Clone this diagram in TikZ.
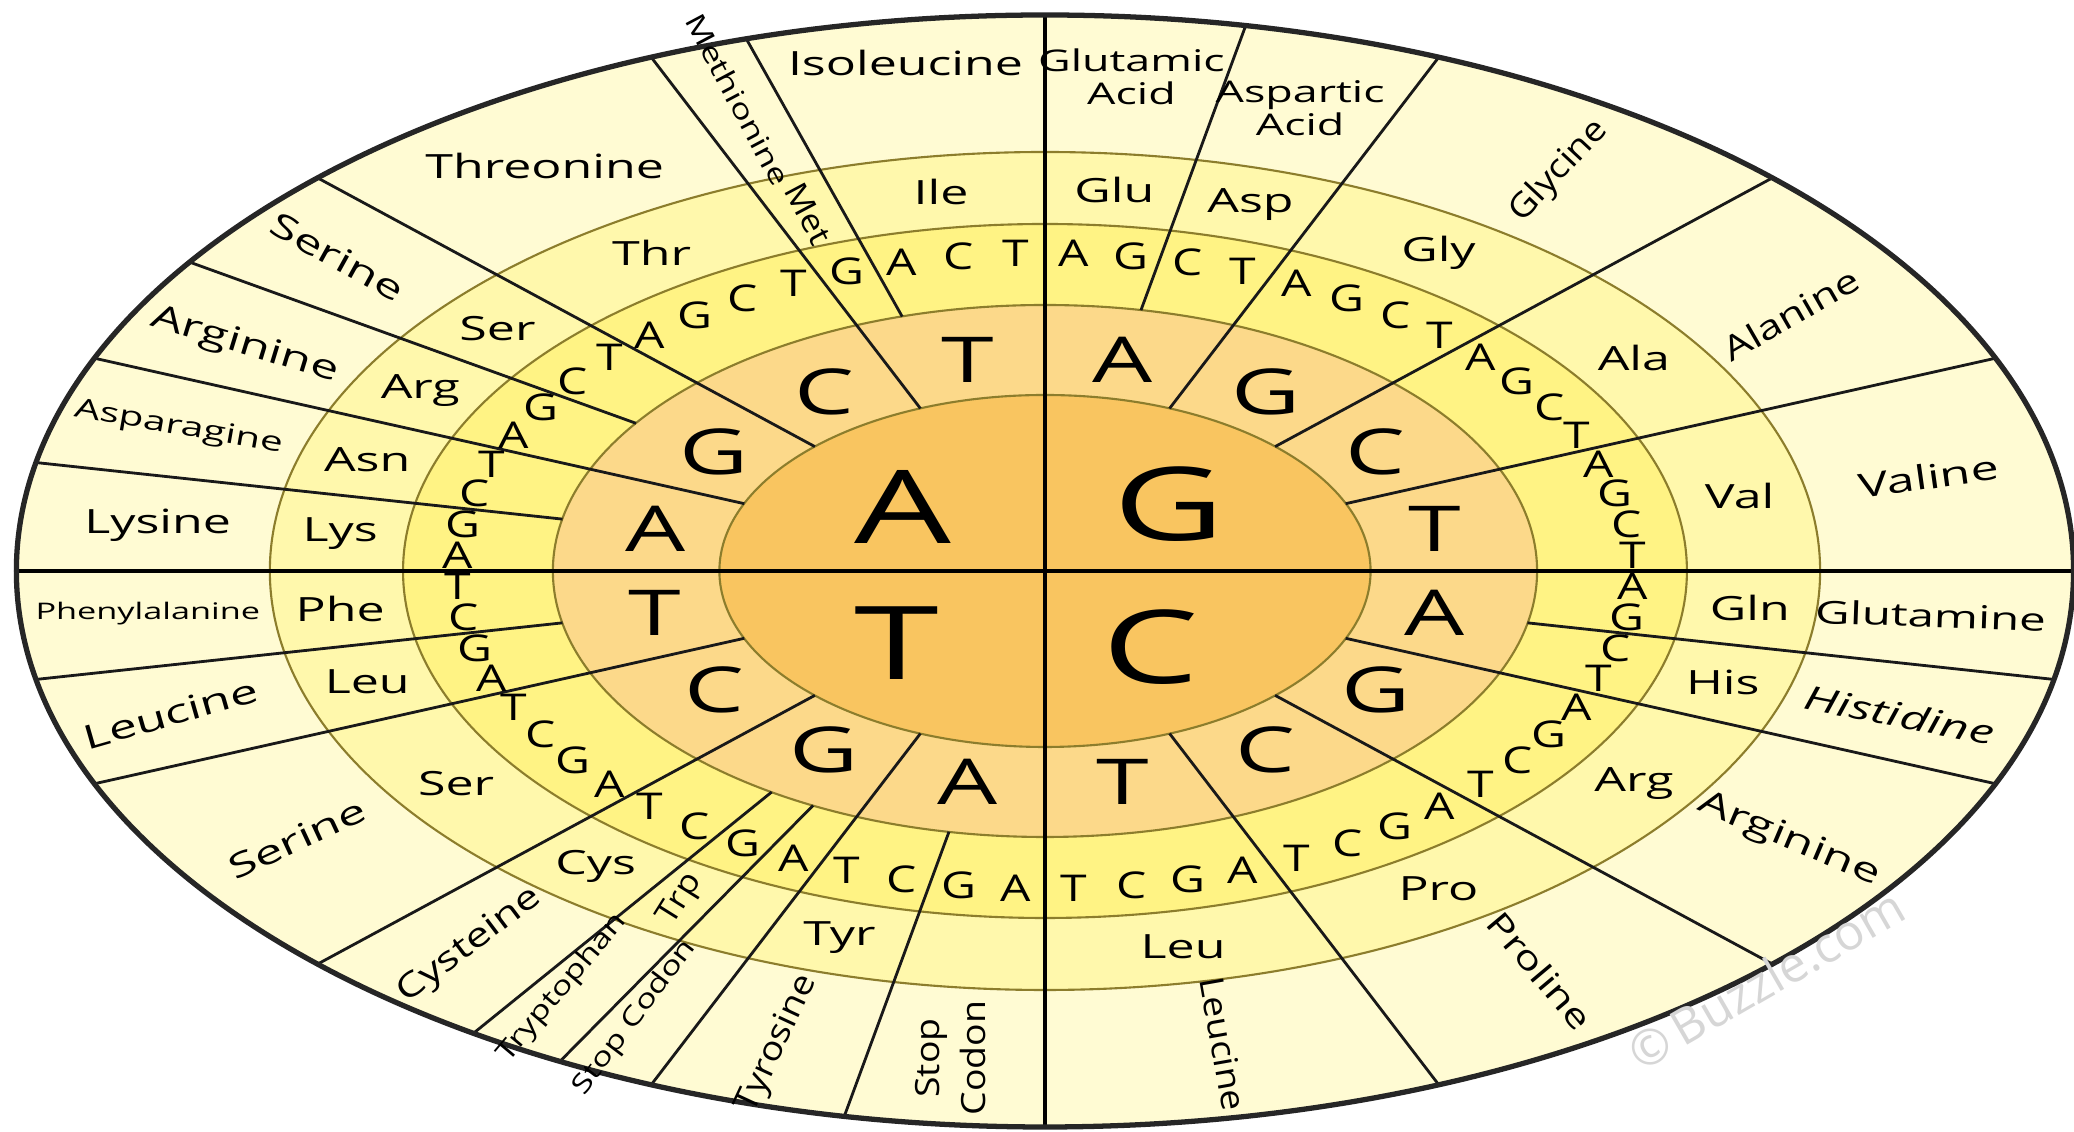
\documentclass[tikz,border=0pt]{standalone}
\usepackage{tikz}
\usepackage{xcolor}
\usepackage{fontspec}
\setmainfont{Open Sans}
\newfontfamily\stretchwide[FakeStretch=1.5]{Open Sans}
\newfontfamily\stretchmid[FakeStretch=1.3]{Open Sans}
\newfontfamily\stretchlow[FakeStretch=1.12]{Open Sans}
\newfontfamily\stretchnone{Open Sans}
\definecolor{ringfive}{HTML}{FFFBD3}
\definecolor{ringfour}{HTML}{FFF8AC}
\definecolor{ringthree}{HTML}{FFF384}
\definecolor{ringtwo}{HTML}{FCD98A}
\definecolor{ringone}{HTML}{F9C560}
\definecolor{ringedge}{HTML}{8C7D2C}
\definecolor{markgray}{HTML}{D6D6D6}

\begin{document}
\begin{tikzpicture}[x=0.0185cm, y=0.01cm,
    spoke/.style={line width=0.8pt, black!90},
    axisline/.style={line width=1.2pt, black},
    rimline/.style={line width=1.5pt, black!85},
    ringline/.style={line width=0.6pt, ringedge},
    bigletter/.style={font=\stretchwide\fontsize{29}{30}\selectfont, inner sep=0pt},
    secondletter/.style={font=\stretchwide\fontsize{18}{20}\selectfont, inner sep=0pt},
    thirdletter/.style={font=\stretchmid\fontsize{10.5}{11}\selectfont, inner sep=0pt},
    abbrev/.style={font=\stretchwide\fontsize{9.5}{10}\selectfont, inner sep=0pt},
    acid/.style={font=\stretchwide\fontsize{9.5}{10.5}\selectfont, inner sep=0pt, align=center},
    acidmid/.style={font=\stretchmid\fontsize{9.5}{10.5}\selectfont, inner sep=0pt, align=center},
    acidlow/.style={font=\stretchlow\fontsize{9.5}{13}\selectfont, inner sep=0pt, align=center},
    acidsmall/.style={font=\stretchmid\fontsize{7.5}{8}\selectfont, inner sep=0pt},
    watermark/.style={font=\stretchnone\fontsize{14}{15}\selectfont, text=markgray, inner sep=0pt}]
    \fill[white] (-10.45cm,-5.61cm) rectangle (10.29cm,5.71cm);
    \useasboundingbox (-10.45cm,-5.61cm) rectangle (10.29cm,5.71cm);
    \fill[ringfive] (0,0) ellipse [x radius=10.286cm, y radius=5.56cm];
    \fill[ringfour] (0,0) ellipse [x radius=7.7515cm, y radius=4.19cm];
    \fill[ringthree] (0,0) ellipse [x radius=6.4195cm, y radius=3.47cm];
    \fill[ringtwo] (0,0) ellipse [x radius=4.921cm, y radius=2.66cm];
    \fill[ringone] (0,0) ellipse [x radius=3.256cm, y radius=1.76cm];
    \foreach \rx/\ry in {7.7515/4.19, 6.4195/3.47, 4.921/2.66, 3.256/1.76}
        \draw[ringline] (0,0) ellipse [x radius=\rx cm, y radius=\ry cm];
    \foreach \a in {22.5,45,67.5,112.5,135,157.5,202.5,225,247.5,292.5,315,337.5}
        \draw[spoke] (\a:176) -- (\a:556);
    \foreach \a in {78.75,106.875,146.25,168.75,191.25,236.25,241.875,258.75,348.75}
        \draw[spoke] (\a:266) -- (\a:556);
    \draw[axisline] (180:556) -- (0:556);
    \draw[axisline] (90:556) -- (270:556);
    \draw[rimline] (0,0) ellipse [x radius=10.286cm, y radius=5.56cm];

    \foreach \base/\ang/\rad in {A/140/100, G/45/95, T/222/108, C/307/95}
        \node[bigletter] (first-\base) at (\ang:\rad) {\base};
    \foreach \q in {0,...,3}
        \foreach \base [count=\j from 0] in {T,C,G,A}
            \node[secondletter] (second-\q-\j) at ({90+90*\q+22.5*(\j+0.5)}:215) {\base};
    \foreach \base [count=\j from 0] in {T,C,A,G}
        \node[thirdletter] (third-0-\j) at ({90+5.625*(\j+0.5)}:318) {\base};
    \foreach \q in {1,...,15}
        \foreach \base [count=\j from 0] in {T,C,G,A}
            \node[thirdletter] (third-\q-\j) at ({90+5.625*(4*\q+\j+0.5)}:318) {\base};

    \foreach \abbr/\ang [count=\n] in {Ile/98.44, Thr/123.75, Ser/140.63, Arg/151.88, Asn/163.13, Lys/174.38, Phe/185.63, Leu/196.88, Ser/213.75, Cys/230.63, Tyr/253.13, Leu/281.25, Pro/303.75, Arg/326.25, His/343.13, Gln/354.38, Val/11.25, Ala/33.75, Gly/56.25, Asp/73.13, Glu/84.38}
        \node[abbrev] (abbr-\n) at (\ang:383) {\abbr};
    \node[abbrev, font=\stretchlow\fontsize{9}{10}\selectfont, rotate=-62] (abbr-met) at (109.69:380) {Met};
    \node[abbrev, font=\stretchlow\fontsize{9}{10}\selectfont, rotate=58] (abbr-trp) at (239.06:383) {Trp};

    \node[acid] (isoleucine) at (98.44:514) {Isoleucine};
    \node[acidsmall, font=\stretchmid\fontsize{7.8}{9}\selectfont, rotate=-62] (methionine) at (109.4:500) {Methionine};
    \node[acid] (threonine) at (123.75:487) {Threonine};
    \node[acid, rotate=-29] (serine-top) at (140.6:495) {Serine};
    \node[acid, rotate=-17] (arginine-left) at (152.5:488) {Arginine};
    \node[acid, font=\stretchwide\fontsize{7.7}{8}\selectfont, rotate=-10] (asparagine) at (163:490) {Asparagine};
    \node[acid] (lysine) at (174.6:482) {Lysine};
    \node[acid, font=\stretchwide\fontsize{6.5}{7}\selectfont] (phenylalanine) at (185:487) {Phenylalanine};
    \node[acid, rotate=16] (leucine-left) at (196.8:494) {Leucine};
    \node[acid, rotate=25] (serine-low) at (213.5:485) {Serine};
    \node[acidmid, rotate=37] (cysteine) at (230.3:487) {Cysteine};
    \node[acidsmall, rotate=50] (tryptophan) at (238:492) {Tryptophan};
    \node[acidsmall, rotate=53] (stop-small) at (243.6:499) {Stop Codon};
    \node[acidlow, rotate=65] (tyrosine) at (253:495) {Tyrosine};
    \node[acidlow, rotate=90] (stop-big) at (264:490) {Stop\\Codon};
    \node[acidlow, rotate=-80] (leucine-low) at (281.5:483) {Leucine};
    \node[acidmid, rotate=-50] (proline) at (303.8:481) {Proline};
    \node[acid, rotate=-23] (arginine-right) at (326.2:484) {Arginine};
    \node[acid, font=\stretchwide\itshape\fontsize{9.5}{10}\selectfont, rotate=-11] (histidine) at (342.7:484) {Histidine};
    \node[acid, font=\stretchwide\fontsize{9}{10}\selectfont, rotate=-2] (glutamine) at (354.7:481) {Glutamine};
    \node[acid, rotate=8] (valine) at (11.2:487) {Valine};
    \node[acidmid, rotate=30] (alanine) at (32.5:478) {Alanine};
    \node[acidlow, rotate=47] (glycine) at (55.2:487) {Glycine};
    \node[acid, font=\stretchwide\fontsize{8.5}{9.5}\selectfont] (aspartic) at (73.4:483) {Aspartic\\Acid};
    \node[acid, font=\stretchwide\fontsize{8.5}{9.5}\selectfont] (glutamic) at (84.6:497) {Glutamic\\Acid};

    \node[watermark, rotate=30] (buzzle) at (7.21cm,-4.08cm) {\textcopyright\,Buzzle.com};
\end{tikzpicture}
\end{document}
